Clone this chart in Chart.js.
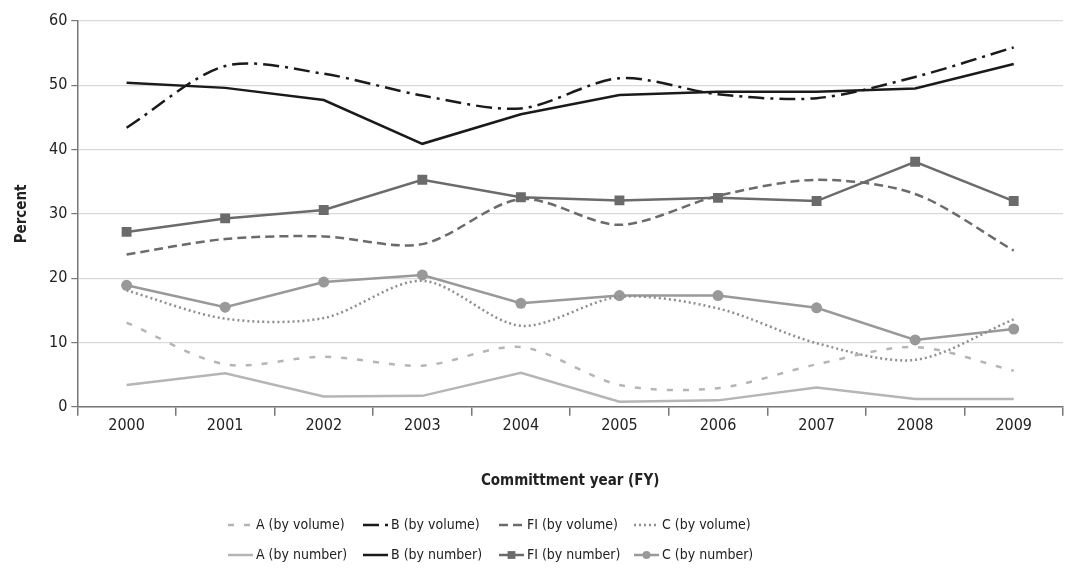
<!DOCTYPE html>
<html>
<head>
<meta charset="utf-8">
<title>Commitment year chart</title>
<script src="https://cdn.jsdelivr.net/npm/chart.js"></script>
<style>
  html, body { margin: 0; padding: 0; background: #fff; }
  #wrap { width: 1075px; height: 572px; position: relative; }
</style>
</head>
<body>
<div id="wrap"><canvas id="lineChart"></canvas></div>
<script>
// Data
const years = ['2000', '2001', '2002', '2003', '2004', '2005', '2006', '2007', '2008', '2009'];

const aByVolume  = [13.1, 6.6, 7.8, 6.4, 9.3, 3.4, 2.9, 6.6, 9.3, 5.6];
const bByVolume  = [43.4, 53.0, 51.8, 48.4, 46.4, 51.1, 48.6, 48.0, 51.3, 55.9];
const fiByVolume = [23.7, 26.1, 26.5, 25.3, 32.3, 28.3, 32.8, 35.3, 33.1, 24.3];
const cByVolume  = [18.1, 13.7, 13.8, 19.6, 12.6, 17.1, 15.3, 9.9, 7.3, 13.6];

const aByNumber  = [3.4, 5.2, 1.6, 1.7, 5.3, 0.8, 1.0, 3.0, 1.2, 1.2];
const bByNumber  = [50.4, 49.6, 47.7, 40.9, 45.5, 48.5, 49.0, 49.0, 49.5, 53.3];
const fiByNumber = [27.2, 29.3, 30.6, 35.3, 32.6, 32.1, 32.5, 32.0, 38.1, 32.0];
const cByNumber  = [18.9, 15.5, 19.4, 20.5, 16.1, 17.3, 17.3, 15.4, 10.4, 12.1];

const yTicks = [0, 10, 20, 30, 40, 50, 60];

const FONT = "'DejaVu Sans Condensed', 'Liberation Sans', sans-serif";

// Legend drawn in a 4 x 2 grid below the x axis title
const gridLegend = {
    id: 'gridLegend',
    afterDraw(chart) {
        const ctx = chart.ctx;
        const colX = [228, 363, 499, 634];
        const rowY = [525, 555];
        chart.data.datasets.forEach(function(ds, i) {
            const x = colX[i % 4];
            const y = rowY[Math.floor(i / 4)];
            ctx.save();
            ctx.strokeStyle = ds.borderColor;
            ctx.lineWidth = ds.borderWidth;
            ctx.setLineDash(ds.borderDash || []);
            ctx.beginPath();
            ctx.moveTo(x, y);
            ctx.lineTo(x + 25, y);
            ctx.stroke();
            ctx.setLineDash([]);
            if (ds.pointRadius > 0) {
                ctx.fillStyle = ds.pointBackgroundColor;
                ctx.strokeStyle = ds.pointBackgroundColor;
                Chart.helpers.drawPoint(ctx, {
                    pointStyle: ds.pointStyle,
                    radius: ds.pointRadius - 1.5,
                    borderWidth: 0
                }, x + 12.5, y);
            }
            ctx.fillStyle = '#222';
            ctx.font = '14px ' + FONT;
            ctx.textBaseline = 'middle';
            ctx.fillText(ds.label, x + 28, y);
            ctx.restore();
        });
    }
};

function lineSet(label, data, color, dash, smooth, pointStyle, radius) {
    return {
        label: label,
        data: data,
        borderColor: color,
        backgroundColor: color,
        pointBackgroundColor: color,
        borderWidth: 2.5,
        borderDash: dash,
        tension: smooth ? 0.3 : 0,
        pointStyle: pointStyle || 'circle',
        pointRadius: radius || 0,
        pointHoverRadius: radius || 0,
        pointBorderWidth: 0,
        fill: false
    };
}

const ctx = document.getElementById('lineChart').getContext('2d');

const lineChart = new Chart(ctx, {
    type: 'line',
    data: {
        labels: years,
        datasets: [
            lineSet('A (by volume)', aByVolume, '#b5b5b5', [6, 10], true),
            lineSet('B (by volume)', bByVolume, '#1a1a1a', [16, 6, 3, 6], true),
            lineSet('FI (by volume)', fiByVolume, '#6b6b6b', [9, 5], true),
            lineSet('C (by volume)', cByVolume, '#8e8e8e', [2, 3], true),
            lineSet('A (by number)', aByNumber, '#b5b5b5', [], false),
            lineSet('B (by number)', bByNumber, '#1a1a1a', [], false),
            lineSet('FI (by number)', fiByNumber, '#6b6b6b', [], false, 'rect', 7),
            lineSet('C (by number)', cByNumber, '#999999', [], false, 'circle', 5.5)
        ]
    },
    options: {
        responsive: true,
        maintainAspectRatio: false,
        animation: false,
        layout: {
            padding: { left: 9, right: 12, top: 21, bottom: 78 }
        },
        scales: {
            x: {
                offset: true,
                grid: {
                    offset: true,
                    drawOnChartArea: false,
                    drawTicks: true,
                    tickLength: 9,
                    tickColor: '#777',
                    lineWidth: 1.5
                },
                border: { color: '#777', width: 1.5 },
                ticks: {
                    color: '#222',
                    font: { family: FONT, size: 16 },
                    padding: 0
                },
                title: {
                    display: true,
                    text: 'Committment year (FY)',
                    color: '#222',
                    font: { family: FONT, size: 15, weight: 'bold' },
                    padding: { top: 37 }
                }
            },
            y: {
                min: 0,
                max: 60,
                afterBuildTicks: function(scale) {
                    scale.ticks = yTicks.map(function(v) { return { value: v }; });
                },
                grid: {
                    color: '#d9d9d9',
                    lineWidth: 1.2,
                    tickLength: 6,
                    tickColor: '#777'
                },
                border: { color: '#777', width: 1.5 },
                ticks: {
                    color: '#222',
                    font: { family: FONT, size: 16 },
                    padding: 4
                },
                title: {
                    display: true,
                    text: 'Percent',
                    color: '#222',
                    font: { family: FONT, size: 15, weight: 'bold' },
                    padding: { bottom: 14 }
                }
            }
        },
        plugins: {
            legend: { display: false },
            tooltip: { enabled: false }
        }
    },
    plugins: [gridLegend]
});
</script>
</body>
</html>
